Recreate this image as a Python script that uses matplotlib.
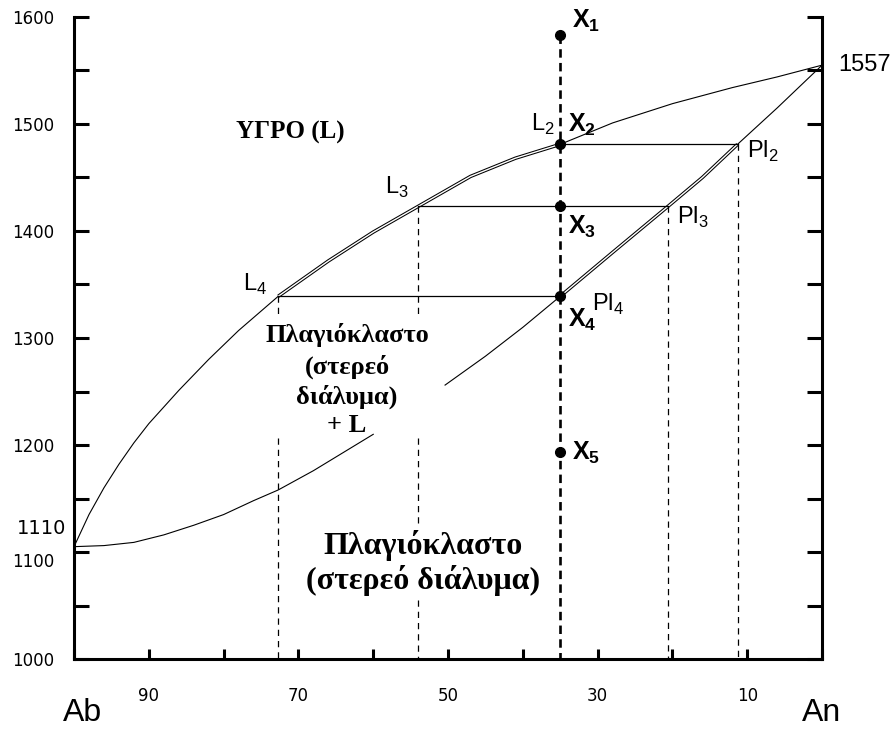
# Plagioclase (Ab-An) binary phase diagram with crystallization path of bulk X
import numpy as np
import matplotlib.pyplot as plt
import matplotlib.transforms as mtransforms

plt.rcParams['font.family'] = 'Liberation Sans'
plt.rcParams['mathtext.fontset'] = 'custom'
plt.rcParams['mathtext.rm'] = 'Liberation Sans'
plt.rcParams['mathtext.bf'] = 'Liberation Sans:bold'

# Liquidus curve (wt% Ab, T in C)
liq_ab = [100, 98, 96, 94, 92, 90, 86, 82, 78, 72.7, 66, 60, 54, 47, 41, 35, 28, 20, 12, 6, 0]
liq_t = [1105, 1135, 1160, 1182, 1202, 1220, 1251, 1280, 1307, 1339, 1372, 1399, 1423,
         1451, 1468, 1481, 1501, 1519, 1534, 1544, 1555]

# Solidus curve (wt% Ab, T in C)
sol_ab = [100, 96, 92, 88, 84, 80, 76, 72.7, 68, 64, 60, 50.4, 45, 40, 35, 28, 20.6, 16, 11.3, 6, 0]
sol_t = [1105, 1106, 1109, 1116, 1125, 1135, 1148, 1158, 1176, 1193, 1210, 1256, 1283,
         1310, 1339, 1380, 1423, 1450, 1481, 1515, 1555]

# Bulk composition X and its cooling steps
bulk_ab = 35
path_t = [1583, 1481, 1423, 1339, 1193]
path_names = ['1', '2', '3', '4', '5']

# Tie lines liquid L_i -> plagioclase Pl_i
tie_t = [1481, 1423, 1339]
tie_liq_ab = [35, 54, 72.7]
tie_sol_ab = [11.3, 20.6, 35]

liq_ab = np.array(liq_ab)
liq_t = np.array(liq_t)
sol_ab = np.array(sol_ab)
sol_t = np.array(sol_t)

fig = plt.figure(figsize=(8.92, 7.29), dpi=100)
ax = fig.add_axes([0.083, 0.096, 0.8386, 0.8807])

# liquidus
ax.plot(liq_ab, liq_t, color='black', lw=0.8)
# solidus, broken where the two-phase label sits
m1 = sol_ab >= 60
m2 = sol_ab <= 50.4
ax.plot(sol_ab[m1], sol_t[m1], color='black', lw=0.8)
ax.plot(sol_ab[m2], sol_t[m2], color='black', lw=0.8)

# doubled segments: liquid path L4->L2 and solid path Pl4->Pl2
dl = (liq_ab <= 72.7) & (liq_ab >= 35)
ds = (sol_ab <= 35) & (sol_ab >= 11.3)
for xs, ys in [(liq_ab[dl], liq_t[dl]), (sol_ab[ds], sol_t[ds])]:
    ax.plot(xs, ys, color='black', lw=2.5, solid_capstyle='butt')
    ax.plot(xs, ys, color='white', lw=1.0, solid_capstyle='butt')

# tie lines
for t, a, b in zip(tie_t, tie_liq_ab, tie_sol_ab):
    ax.plot([a, b], [t, t], color='black', lw=0.9)

# dashed drop lines to the composition axis
dash = dict(color='black', lw=0.9, linestyle=(0, (5, 4)))
ax.plot([tie_sol_ab[0]] * 2, [tie_t[0], 1000], **dash)
ax.plot([tie_sol_ab[1]] * 2, [tie_t[1], 1000], **dash)
ax.plot([tie_liq_ab[2]] * 2, [tie_t[2], 1321], **dash)
ax.plot([tie_liq_ab[2]] * 2, [1207, 1000], **dash)
ax.plot([tie_liq_ab[1]] * 2, [tie_t[1], 1321], **dash)
ax.plot([tie_liq_ab[1]] * 2, [1207, 1127], **dash)
ax.plot([tie_liq_ab[1]] * 2, [1055, 1000], **dash)

# bulk composition line and points
ax.plot([bulk_ab, bulk_ab], [path_t[0], 1000], color='black', lw=1.9,
        linestyle=(0, (3.2, 2.0)))
ax.plot([bulk_ab] * len(path_t), path_t, 'o', color='black', ms=7)

# point labels
xlab = [(33.4, 1596), (34.0, 1499), (34.0, 1404), (34.0, 1317), (33.4, 1193)]
for (x, y), n in zip(xlab, path_names):
    ax.text(x, y, r'$\mathbf{X}_\mathbf{%s}$' % n, fontsize=18, ha='left', va='center')

ax.text(35.7, 1500, r'L$_2$', fontsize=17, ha='right', va='center')
ax.text(58.4, 1441, r'L$_3$', fontsize=17, ha='left', va='center')
ax.text(77.4, 1350, r'L$_4$', fontsize=17, ha='left', va='center')
ax.text(10.0, 1474, r'Pl$_2$', fontsize=17, ha='left', va='center')
ax.text(19.4, 1413, r'Pl$_3$', fontsize=17, ha='left', va='center')
ax.text(30.7, 1331, r'Pl$_4$', fontsize=17, ha='left', va='center')

# field labels
serif = dict(family='Liberation Serif', weight='bold', ha='center', va='center')
ax.text(71.1, 1492, 'ΥΓΡΟ (L)', fontsize=18, **serif)
for y, s in zip([1303, 1273, 1245, 1218], ['Πλαγιόκλαστο', '(στερεό', 'διάλυμα)', '+ L']):
    ax.text(63.5, y, s, fontsize=19, **serif)
ax.text(53.3, 1106, 'Πλαγιόκλαστο', fontsize=23, **serif)
ax.text(53.3, 1073, '(στερεό διάλυμα)', fontsize=23, **serif)

# end-member melting points and names
ax.text(-2.1, 1555, '1557', fontsize=17, ha='left', va='center', clip_on=False)
ax.text(101.1, 1122, '1110', family='DejaVu Sans', fontsize=14, ha='right', va='center',
        clip_on=False)
ax.text(98.9, 950, 'Ab', fontsize=23, ha='center', va='center', clip_on=False)
ax.text(0.1, 950, 'An', fontsize=23, ha='center', va='center', clip_on=False)

# axes
ax.set_xlim(100, 0)
ax.set_ylim(1000, 1600)
ax.spines['top'].set_visible(False)
for s in ['left', 'right', 'bottom']:
    ax.spines[s].set_linewidth(2.2)

yt = list(range(1000, 1601, 50))
ax.set_yticks(yt)
ax.set_yticklabels([str(v) if v % 100 == 0 else '' for v in yt], family='DejaVu Sans',
                   fontsize=12)
xt = list(range(0, 101, 10))
ax.set_xticks(xt)
ax.set_xticklabels([str(v) if v in (90, 70, 50, 30, 10) else '' for v in xt],
                   family='DejaVu Sans', fontsize=12)

ax.tick_params(axis='y', direction='in', length=11, width=2.2, left=True, right=True, pad=14)
ax.tick_params(axis='x', direction='in', length=7.5, width=2.2, pad=20)

# nudge 1100 below its tick so it clears the 1110 mark
off = mtransforms.ScaledTranslation(0, -8 / 100, fig.dpi_scale_trans)
for lbl in ax.get_yticklabels():
    if lbl.get_text() == '1100':
        lbl.set_transform(lbl.get_transform() + off)

fig.savefig('out.png', dpi=100)
